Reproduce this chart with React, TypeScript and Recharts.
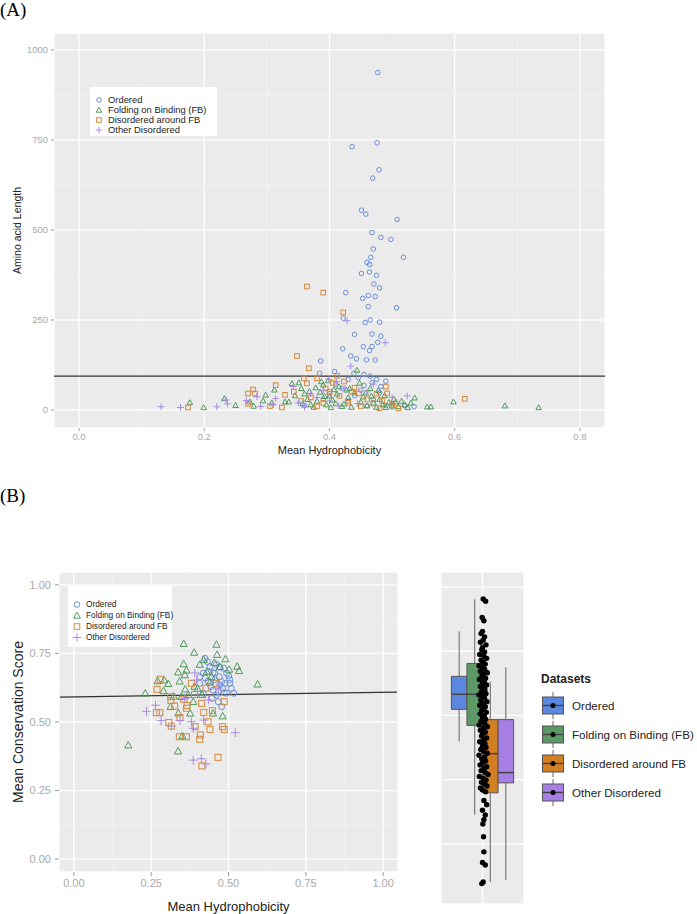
import React from "react";
import {
  ScatterChart,
  Scatter,
  XAxis,
  YAxis,
  CartesianGrid,
  ReferenceLine,
  ReferenceArea,
  Legend,
} from "recharts";

const FONT = '"Liberation Sans", Arial, sans-serif';

const groups = ["Ordered", "Folding on Binding (FB)", "Disordered around FB", "Other Disordered"];
const markerKinds = ["circle", "triangle", "square", "plus"];
const markerColors = ["#6b8ed6", "#4f9a5c", "#d4883c", "#a98ae6"];
const boxFills = ["#5b88de", "#5c9966", "#d27e22", "#a67ee4"];

// ---- panel A: mean hydrophobicity vs amino acid length ----
const aOrdered = [
  [0.477, 937], [0.476, 742], [0.436, 731], [0.479, 667], [0.469, 644], [0.451, 555], [0.458, 544],
  [0.508, 529], [0.468, 493], [0.482, 479], [0.498, 474], [0.47, 447], [0.466, 424], [0.518, 424],
  [0.46, 410], [0.464, 404], [0.451, 379], [0.464, 383], [0.475, 374], [0.471, 350], [0.48, 339],
  [0.426, 326], [0.453, 310], [0.462, 318], [0.473, 315], [0.462, 287], [0.507, 284], [0.422, 255],
  [0.457, 243], [0.465, 250], [0.48, 244], [0.44, 210], [0.468, 211], [0.482, 205], [0.477, 188],
  [0.454, 176], [0.468, 176], [0.464, 165], [0.421, 170], [0.434, 150], [0.443, 142], [0.459, 139],
  [0.473, 139], [0.386, 136], [0.408, 107], [0.439, 102], [0.455, 99], [0.465, 94], [0.446, 90],
  [0.384, 102], [0.468, 76], [0.482, 65], [0.535, 9], [0.44, 40], [0.45, 55], [0.47, 30], [0.49, 12],
  [0.5, 8], [0.46, 12], [0.43, 25], [0.48, 48], [0.455, 68], [0.42, 60], [0.4, 45], [0.36, 12],
  [0.39, 30], [0.52, 12], [0.475, 85], [0.49, 80], [0.43, 85], [0.41, 72],
];
const aFolding = [
  [0.177, 21], [0.199, 7], [0.232, 32], [0.25, 13], [0.273, 23], [0.279, 11], [0.294, 26], [0.298, 42],
  [0.308, 20], [0.312, 56], [0.329, 23], [0.335, 23], [0.34, 74], [0.351, 76], [0.355, 60], [0.36, 45],
  [0.365, 30], [0.37, 15], [0.375, 8], [0.38, 25], [0.385, 50], [0.387, 79], [0.39, 70], [0.395, 15],
  [0.4, 40], [0.402, 7], [0.405, 28], [0.407, 57], [0.41, 18], [0.415, 65], [0.42, 10], [0.423, 17],
  [0.427, 56], [0.43, 35], [0.435, 8], [0.44, 48], [0.444, 111], [0.45, 22], [0.454, 37], [0.46, 12],
  [0.465, 60], [0.467, 39], [0.47, 20], [0.475, 8], [0.48, 30], [0.485, 15], [0.49, 7], [0.495, 22],
  [0.5, 12], [0.506, 23], [0.51, 10], [0.52, 15], [0.525, 7], [0.53, 20], [0.536, 34], [0.556, 9],
  [0.562, 9], [0.598, 23], [0.68, 12], [0.734, 7], [0.345, 40], [0.357, 18], [0.368, 52], [0.378, 62],
  [0.392, 38], [0.398, 82], [0.412, 45], [0.432, 60], [0.448, 75], [0.458, 48], [0.478, 55],
  [0.488, 40], [0.503, 30], [0.515, 25],
];
const aAround = [
  [0.174, 7], [0.27, 46], [0.278, 57], [0.281, 46], [0.27, 17], [0.305, 11], [0.314, 69], [0.324, 7],
  [0.329, 42], [0.343, 51], [0.348, 150], [0.367, 116], [0.359, 88], [0.364, 74], [0.364, 343],
  [0.39, 326], [0.422, 271], [0.38, 88], [0.412, 95], [0.394, 60], [0.423, 79], [0.436, 51],
  [0.447, 46], [0.416, 39], [0.49, 65], [0.492, 46], [0.484, 25], [0.616, 31], [0.37, 35], [0.38, 10],
  [0.39, 20], [0.4, 50], [0.43, 20], [0.45, 10], [0.46, 30], [0.47, 18], [0.48, 5], [0.5, 15],
  [0.355, 25], [0.405, 75], [0.44, 62], [0.475, 45], [0.51, 5],
];
const aOther = [
  [0.131, 9], [0.162, 7], [0.22, 9], [0.235, 28], [0.237, 17], [0.267, 26], [0.284, 37], [0.314, 32],
  [0.342, 65], [0.399, 85], [0.411, 79], [0.434, 122], [0.428, 248], [0.489, 187], [0.524, 39],
  [0.31, 15], [0.35, 20], [0.37, 45], [0.38, 35], [0.39, 55], [0.4, 25], [0.415, 12], [0.425, 60],
  [0.445, 18], [0.46, 50], [0.47, 72], [0.5, 35], [0.36, 8], [0.29, 10],
];
const aCutoff = 94;
const aXTicks = [0, 0.2, 0.4, 0.6, 0.8];
const aXMinor = [0.1, 0.3, 0.5, 0.7];
const aYTicks = [0, 250, 500, 750, 1000];
const aYMinor = [125, 375, 625, 875];

// ---- panel B: mean hydrophobicity vs mean conservation score ----
const bOrdered = [
  [0.424, 0.732], [0.432, 0.72], [0.44, 0.702], [0.418, 0.678], [0.45, 0.68], [0.472, 0.7],
  [0.485, 0.696], [0.494, 0.678], [0.501, 0.668], [0.504, 0.655], [0.456, 0.655], [0.434, 0.649],
  [0.443, 0.629], [0.472, 0.635], [0.481, 0.623], [0.509, 0.623], [0.517, 0.605], [0.494, 0.605],
  [0.461, 0.599], [0.467, 0.574], [0.478, 0.556], [0.447, 0.586], [0.418, 0.605], [0.407, 0.641],
  [0.456, 0.678], [0.425, 0.66], [0.47, 0.665], [0.478, 0.647], [0.489, 0.641], [0.45, 0.617],
  [0.467, 0.611], [0.486, 0.607], [0.504, 0.641], [0.437, 0.684], [0.461, 0.71], [0.407, 0.665],
];
const bFolding = [
  [0.176, 0.416], [0.231, 0.605], [0.271, 0.65], [0.29, 0.614], [0.305, 0.64], [0.355, 0.786],
  [0.389, 0.754], [0.337, 0.682], [0.342, 0.649], [0.355, 0.712], [0.364, 0.689], [0.323, 0.594],
  [0.338, 0.533], [0.337, 0.394], [0.351, 0.45], [0.461, 0.783], [0.463, 0.746], [0.49, 0.73],
  [0.528, 0.703], [0.534, 0.687], [0.502, 0.692], [0.594, 0.638], [0.481, 0.522], [0.407, 0.71],
  [0.42, 0.727], [0.454, 0.717], [0.39, 0.63], [0.4, 0.623], [0.445, 0.665], [0.36, 0.62],
  [0.348, 0.593], [0.386, 0.574], [0.313, 0.556], [0.376, 0.532], [0.45, 0.532], [0.359, 0.672],
  [0.43, 0.684], [0.472, 0.702], [0.292, 0.653], [0.37, 0.6], [0.415, 0.6], [0.44, 0.645],
];
const bAround = [
  [0.279, 0.656], [0.269, 0.619], [0.267, 0.534], [0.278, 0.534], [0.307, 0.498], [0.315, 0.485],
  [0.326, 0.558], [0.343, 0.516], [0.341, 0.446], [0.364, 0.446], [0.356, 0.583], [0.364, 0.55],
  [0.366, 0.56], [0.39, 0.6], [0.392, 0.483], [0.407, 0.437], [0.409, 0.453], [0.414, 0.34],
  [0.413, 0.568], [0.42, 0.535], [0.434, 0.501], [0.44, 0.473], [0.448, 0.541], [0.466, 0.371],
  [0.481, 0.483], [0.486, 0.473], [0.486, 0.574], [0.427, 0.623], [0.461, 0.641], [0.38, 0.641],
  [0.313, 0.592], [0.314, 0.578],
];
const bOther = [
  [0.235, 0.539], [0.264, 0.561], [0.282, 0.505], [0.316, 0.485], [0.343, 0.505], [0.38, 0.501],
  [0.386, 0.477], [0.42, 0.507], [0.386, 0.361], [0.412, 0.366], [0.427, 0.347], [0.522, 0.461],
  [0.391, 0.679], [0.397, 0.653], [0.435, 0.58], [0.359, 0.586], [0.467, 0.623],
];
const bFit = [
  { x: -0.045, y: 0.591 },
  { x: 1.045, y: 0.609 },
];
const bTicks = [0, 0.25, 0.5, 0.75, 1];
const bMinor = [0.125, 0.375, 0.625, 0.875];

// ---- panel B side: box plots (min, q1, median, q3, max) ----
const boxStats = [
  [0.519, 0.619, 0.666, 0.722, 0.862],
  [0.291, 0.569, 0.666, 0.762, 0.962],
  [0.081, 0.359, 0.481, 0.587, 0.706],
  [0.087, 0.39, 0.422, 0.587, 0.75],
];
const boxLeft = [-0.45, -0.225, 0, 0.225];
const boxWidth = 0.225;
const boxGrid = [0.2, 0.4, 0.6, 0.8, 1.0];
const jitter = [
  [0.01, 0.963], [0.045, 0.956], [-0.005, 0.905], [0.02, 0.895], [0.0, 0.862], [-0.02, 0.855],
  [0.03, 0.845], [0.01, 0.835], [-0.03, 0.828], [0.05, 0.82], [0.0, 0.812], [-0.01, 0.805],
  [0.03, 0.798], [-0.04, 0.79], [0.02, 0.785], [0.06, 0.778], [-0.02, 0.772], [0.01, 0.766],
  [0.04, 0.76], [-0.05, 0.755], [0.0, 0.75], [0.03, 0.744], [-0.03, 0.738], [0.07, 0.733],
  [0.015, 0.728], [-0.01, 0.722], [0.045, 0.716], [-0.045, 0.712], [0.025, 0.706], [0.0, 0.7],
  [0.06, 0.695], [-0.03, 0.69], [0.02, 0.685], [0.035, 0.68], [-0.015, 0.674], [0.05, 0.668],
  [-0.05, 0.664], [0.01, 0.66], [0.03, 0.654], [-0.025, 0.648], [0.065, 0.643], [0.0, 0.638],
  [-0.04, 0.632], [0.04, 0.627], [0.015, 0.622], [-0.01, 0.616], [0.055, 0.61], [-0.035, 0.605],
  [0.025, 0.6], [0.0, 0.594], [0.045, 0.588], [-0.02, 0.582], [0.03, 0.576], [-0.05, 0.57],
  [0.07, 0.565], [0.01, 0.56], [-0.03, 0.554], [0.04, 0.548], [0.0, 0.542], [-0.015, 0.536],
  [0.06, 0.53], [0.02, 0.524], [-0.04, 0.518], [0.035, 0.512], [0.0, 0.506], [0.05, 0.5],
  [-0.025, 0.494], [0.015, 0.488], [0.07, 0.482], [-0.05, 0.476], [0.03, 0.47], [-0.01, 0.464],
  [0.045, 0.458], [0.0, 0.452], [-0.035, 0.446], [0.06, 0.44], [0.02, 0.434], [-0.02, 0.428],
  [0.04, 0.422], [0.08, 0.416], [-0.045, 0.41], [0.01, 0.404], [0.05, 0.398], [-0.015, 0.392],
  [0.03, 0.386], [0.065, 0.38], [-0.03, 0.374], [0.0, 0.368], [0.045, 0.362], [0.02, 0.335],
  [0.06, 0.322], [0.0, 0.305], [0.04, 0.29], [0.02, 0.275], [0.005, 0.262], [0.015, 0.222],
  [0.02, 0.175], [0.0, 0.142], [0.04, 0.134], [0.01, 0.081], [-0.01, 0.076],
];

const toPoints = (rows: number[][]) => rows.map(([x, y]) => ({ x, y }));
const seriesA = [aOrdered, aFolding, aAround, aOther].map(toPoints);
const seriesB = [bOrdered, bFolding, bAround, bOther].map(toPoints);
const jitterPts = toPoints(jitter);

function drawMarker(kind: string, color: string, s: number, cx: number, cy: number) {
  const common = { fill: "none", stroke: color, strokeWidth: 1 };
  if (kind === "circle") return <circle cx={cx} cy={cy} r={s} {...common} />;
  if (kind === "triangle") {
    const h = s * 1.2;
    return <polygon points={`${cx},${cy - h} ${cx - h},${cy + h * 0.8} ${cx + h},${cy + h * 0.8}`} {...common} />;
  }
  if (kind === "square") return <rect x={cx - s} y={cy - s} width={s * 2} height={s * 2} {...common} />;
  const p = s * 1.45;
  return <path d={`M${cx - p},${cy}H${cx + p}M${cx},${cy - p}V${cy + p}`} {...common} />;
}

const markerShape = (i: number, s: number) => (props: any) => {
  if (props.cx == null || props.cy == null) return <g />;
  return drawMarker(markerKinds[i], markerColors[i], s, props.cx, props.cy);
};

function ScatterKey({ size, fontSize, rowH, width, height, padTop }: any) {
  return (
    <div style={{ background: "#fff", width, height, boxSizing: "border-box", paddingTop: padTop, fontFamily: FONT }}>
      {groups.map((g, i) => (
        <div key={g} style={{ display: "flex", alignItems: "center", height: rowH, lineHeight: rowH + "px", fontSize, color: "#222", whiteSpace: "nowrap" }}>
          <svg width={18} height={rowH} style={{ flex: "none" }}>
            {drawMarker(markerKinds[i], markerColors[i], size, 9, rowH / 2)}
          </svg>
          <span>{g}</span>
        </div>
      ))}
    </div>
  );
}

function BoxKey() {
  return (
    <div style={{ fontFamily: FONT, color: "#222" }}>
      <div style={{ fontWeight: "bold", fontSize: 12, height: 16, lineHeight: "16px", marginBottom: 4 }}>Datasets</div>
      {groups.map((g, i) => (
        <div key={g} style={{ display: "flex", alignItems: "center", height: 29, fontSize: 11.6, whiteSpace: "nowrap" }}>
          <svg width={24} height={29} style={{ flex: "none", marginRight: 7 }}>
            <line x1={12} x2={12} y1={1} y2={28} stroke="#666" />
            <rect x={1.5} y={6} width={21} height={17} fill={boxFills[i]} stroke="#555" />
            <line x1={1.5} x2={22.5} y1={14.5} y2={14.5} stroke="#444" strokeWidth={1.4} />
            <circle cx={12} cy={14.5} r={2.5} fill="#000" />
          </svg>
          <span>{g}</span>
        </div>
      ))}
    </div>
  );
}

const tickA = { fontSize: 9.5, fill: "#a9a9a9", fontFamily: FONT };
const tickB = { fontSize: 11, fill: "#a9a9a9", fontFamily: FONT };

export default function App() {
  return (
    <div style={{ position: "absolute", left: 0, top: 0, width: 697, height: 914, background: "#fff", overflow: "hidden" }}>
      <div style={{ position: "absolute", left: 0, top: 0, fontFamily: '"Liberation Serif", serif', fontSize: 19, lineHeight: "20px" }}>(A)</div>
      <div style={{ position: "absolute", left: 0, top: 486, fontFamily: '"Liberation Serif", serif', fontSize: 19, lineHeight: "20px" }}>(B)</div>

      <div style={{ position: "absolute", left: 0, top: 0 }}>
        <ScatterChart width={697} height={470} margin={{ top: 33, right: 92, bottom: 0, left: 0 }}>
          <CartesianGrid fill="#ebebeb" stroke="#fff" strokeWidth={1.3} />
          {aXMinor.map((v) => (
            <ReferenceLine key={"ax" + v} x={v} stroke="#f3f3f3" strokeWidth={0.8} />
          ))}
          {aYMinor.map((v) => (
            <ReferenceLine key={"ay" + v} y={v} stroke="#f3f3f3" strokeWidth={0.8} />
          ))}
          <XAxis
            type="number"
            dataKey="x"
            domain={[-0.04, 0.84]}
            allowDataOverflow
            ticks={aXTicks}
            tickFormatter={(v: number) => v.toFixed(1)}
            tick={tickA}
            tickSize={3}
            tickMargin={2}
            tickLine={{ stroke: "#999" }}
            axisLine={false}
            height={42}
            label={{ value: "Mean Hydrophobicity", position: "insideBottom", offset: 16, style: { fontSize: 11, fill: "#222", fontFamily: FONT } }}
          />
          <YAxis
            type="number"
            dataKey="y"
            domain={[-50, 1047]}
            allowDataOverflow
            ticks={aYTicks}
            tick={tickA}
            tickSize={3}
            tickMargin={3}
            tickLine={{ stroke: "#999" }}
            axisLine={false}
            width={54}
            label={{ value: "Amino acid Length", angle: -90, position: "insideLeft", offset: 17, style: { textAnchor: "middle", fontSize: 10.5, fill: "#222", fontFamily: FONT } }}
          />
          {seriesA.map((pts, i) => (
            <Scatter key={groups[i]} name={groups[i]} data={pts} shape={markerShape(i, 2.3)} isAnimationActive={false} />
          ))}
          <ReferenceLine y={aCutoff} stroke="#333" strokeWidth={1.2} />
          <Legend
            layout="vertical"
            align="center"
            verticalAlign="middle"
            wrapperStyle={{ left: 90, top: 87, width: 127, height: 49 }}
            content={() => <ScatterKey size={2.3} fontSize={9.4} rowH={10} width={127} height={49} padTop={8} />}
          />
        </ScatterChart>
      </div>

      <div style={{ position: "absolute", left: 0, top: 540 }}>
        <ScatterChart width={420} height={374} margin={{ top: 32, right: 22, bottom: 0, left: 0 }}>
          <CartesianGrid fill="#ebebeb" stroke="#fff" strokeWidth={1.3} />
          {bMinor.map((v) => (
            <ReferenceLine key={"bx" + v} x={v} stroke="#f3f3f3" strokeWidth={0.8} />
          ))}
          {bMinor.map((v) => (
            <ReferenceLine key={"by" + v} y={v} stroke="#f3f3f3" strokeWidth={0.8} />
          ))}
          <XAxis
            type="number"
            dataKey="x"
            domain={[-0.048, 1.048]}
            allowDataOverflow
            ticks={bTicks}
            tickFormatter={(v: number) => v.toFixed(2)}
            tick={tickB}
            tickSize={4}
            tickMargin={3}
            tickLine={{ stroke: "#999" }}
            axisLine={false}
            height={42}
            label={{ value: "Mean Hydrophobicity", position: "insideBottom", offset: 3, style: { fontSize: 13, fill: "#222", fontFamily: FONT } }}
          />
          <YAxis
            type="number"
            dataKey="y"
            domain={[-0.047, 1.047]}
            allowDataOverflow
            ticks={bTicks}
            tickFormatter={(v: number) => v.toFixed(2)}
            tick={tickB}
            tickSize={4}
            tickMargin={4}
            tickLine={{ stroke: "#999" }}
            axisLine={false}
            width={59}
            label={{ value: "Mean Conservation Score", angle: -90, position: "insideLeft", offset: 18, style: { textAnchor: "middle", fontSize: 14, fill: "#222", fontFamily: FONT } }}
          />
          {seriesB.map((pts, i) => (
            <Scatter key={groups[i]} name={groups[i]} data={pts} shape={markerShape(i, 3)} isAnimationActive={false} />
          ))}
          <ReferenceLine segment={bFit} stroke="#333" strokeWidth={1.3} ifOverflow="visible" />
          <Legend
            layout="vertical"
            align="center"
            verticalAlign="middle"
            wrapperStyle={{ left: 68, top: 46, width: 104, height: 61 }}
            content={() => <ScatterKey size={2.8} fontSize={8.3} rowH={11} width={104} height={61} padTop={12.5} />}
          />
        </ScatterChart>
      </div>

      <div style={{ position: "absolute", left: 441, top: 572 }}>
        <ScatterChart width={256} height={332} margin={{ top: 0, right: 173, bottom: 0, left: 0 }}>
          <CartesianGrid fill="#ebebeb" stroke="#fff" strokeWidth={1.3} />
          <XAxis type="number" dataKey="x" domain={[-0.6, 0.6]} allowDataOverflow ticks={[0]} hide />
          <YAxis type="number" dataKey="y" domain={[0.0125, 1.047]} allowDataOverflow ticks={boxGrid} hide />
          {boxStats.map(([lo, q1, med, q3, hi], i) => {
            const x1 = boxLeft[i];
            const x2 = x1 + boxWidth;
            const mid = x1 + boxWidth / 2;
            return (
              <React.Fragment key={groups[i]}>
                <ReferenceLine segment={[{ x: mid, y: lo }, { x: mid, y: q1 }]} stroke="#666" />
                <ReferenceLine segment={[{ x: mid, y: q3 }, { x: mid, y: hi }]} stroke="#666" />
                <ReferenceArea x1={x1} x2={x2} y1={q1} y2={q3} fill={boxFills[i]} fillOpacity={1} stroke="#555" strokeOpacity={1} />
                <ReferenceLine segment={[{ x: x1, y: med }, { x: x2, y: med }]} stroke="#444" strokeWidth={1.5} />
              </React.Fragment>
            );
          })}
          <Scatter data={jitterPts} fill="#000" shape={(p: any) => <circle cx={p.cx} cy={p.cy} r={2.7} fill="#000" />} isAnimationActive={false} />
          <Legend
            layout="vertical"
            align="center"
            verticalAlign="middle"
            wrapperStyle={{ left: 100, top: 99, width: 160 }}
            content={() => <BoxKey />}
          />
        </ScatterChart>
      </div>
    </div>
  );
}
